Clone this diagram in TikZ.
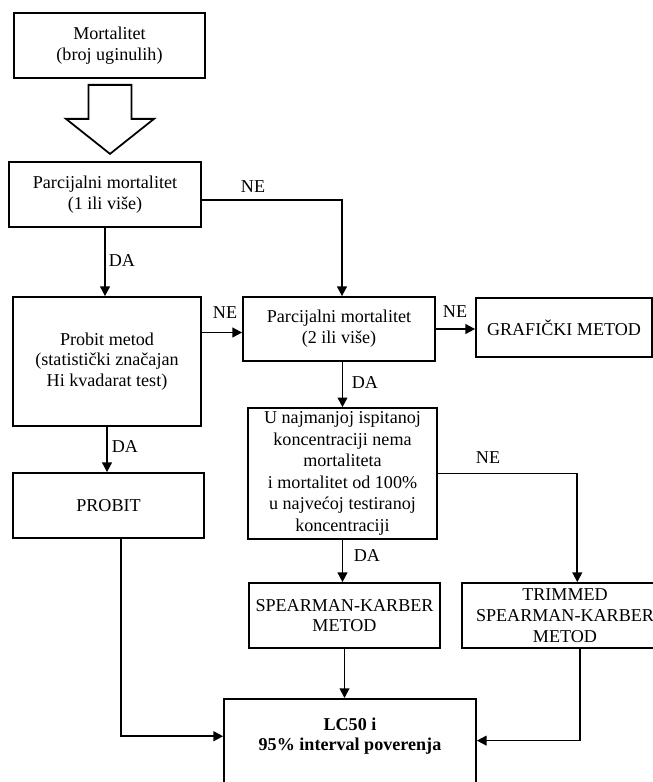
\documentclass[tikz,border=0pt]{standalone}
\usepackage{fontspec}
\setmainfont{Liberation Serif}
\usetikzlibrary{arrows.meta, calc}

\begin{document}
\begin{tikzpicture}[
    x=0.02cm, y=0.02cm,
    box/.style={rectangle, draw, line width=1pt, align=center, inner sep=2pt,
        minimum width=3.82cm, minimum height=1.3cm, font=\fontsize{10.3}{11.8}\selectfont},
    arrow/.style={-{Triangle[length=5.5pt, width=5.5pt]}, line width=1pt},
    blockarrow/.style={draw, line width=1pt, line join=miter},
    lbl/.style={font=\fontsize{10.3}{11.8}\selectfont},
]

\useasboundingbox (0,0) rectangle (653,-782);
\clip (0,0) rectangle (653,-782);

% Start
\node[box] (mort) at (109.5,-45.5) {Mortalitet\\(broj uginulih)};

% First check
\node[box, minimum width=3.84cm] (par1) at (105,-194.5) {Parcijalni mortalitet\\(1 ili više)};

% Probit branch
\node[box, minimum width=3.76cm, minimum height=2.58cm] (probit) at (107,-361.5) {
    Probit metod\\
    (statistički značajan\\
    Hi kvadarat test)
};
\node[box] (probitres) at (108.5,-505.5) {PROBIT};

% Second check
\node[box, minimum width=3.84cm, minimum height=1.28cm] (par2) at (339,-329) {Parcijalni mortalitet\\(2 ili više)};
\node[box, minimum width=3.52cm, minimum height=1.18cm] (graf) at (564,-327.5) {GRAFIČKI METOD};

% Third check
\node[box, minimum width=3.78cm, minimum height=2.6cm, font=\fontsize{10.3}{12.3}\selectfont] (ubox) at (342.5,-473.5) {
    U najmanjoj ispitanoj\\
    koncentraciji nema\\
    mortaliteta\\
    i mortalitet od 100\%\\
    u najvećoj testiranoj\\
    koncentraciji
};

% Spearman-Karber
\node[box] (spear) at (344.5,-615.5) {SPEARMAN-KARBER\\METOD};
\node[box, minimum width=4.12cm] (trim) at (565,-615.5) {TRIMMED\\SPEARMAN-KARBER\\METOD};

% Result
\node[box, minimum width=5.04cm, anchor=north, text height=27.5pt, text depth=24pt,
    font=\fontsize{10.3}{11.4}\selectfont\bfseries] (lc) at (350,-698) {LC50 i\\95\% interval poverenja};

% Block arrow
\draw[blockarrow] ($(mort.south)+(-21,-6)$) -- ++(0,-34) -- ++(-22.5,0) -- ++(44,-35)
    -- ++(44,35) -- ++(-22.5,0) -- ++(0,34) -- cycle;

% Arrows
\draw[arrow] ([yshift=-3pt]par1.east) -| ([xshift=1.7pt]par2.north);
\draw[arrow] (par1.south) -- (par1.south |- probit.north);
\draw[arrow] ([yshift=-2pt]probit.east |- par2.west) -- ([yshift=-2pt]par2.west);
\draw[arrow] (par2.east) -- (par2.east -| graf.west);
\draw[arrow] (ubox.north |- par2.south) -- (ubox.north);
\draw[arrow] (probit.south) -- (probit.south |- probitres.north);
\draw[arrow] (ubox.east) -| ([xshift=7pt]trim.north);
\draw[arrow] (ubox.south) -- (ubox.south |- spear.north);
\draw[arrow] ([xshift=7pt]probitres.south) |- ([yshift=6.5pt]lc.west);
\draw[arrow] (spear.south) -- (spear.south |- lc.north);
\draw[arrow] ([xshift=8.5pt]trim.south) |- ([yshift=4pt]lc.east);

% Answers
\node[lbl] (ne1) at (253,-187) {NE};
\node[lbl] (da1) at (122,-261) {DA};
\node[lbl] (ne2) at (225,-313) {NE};
\node[lbl] (ne3) at (455,-312) {NE};
\node[lbl] (da2) at (365,-383) {DA};
\node[lbl] (da3) at (125,-447) {DA};
\node[lbl] (ne4) at (488,-458) {NE};
\node[lbl] (da4) at (367,-556) {DA};

\end{tikzpicture}
\end{document}
